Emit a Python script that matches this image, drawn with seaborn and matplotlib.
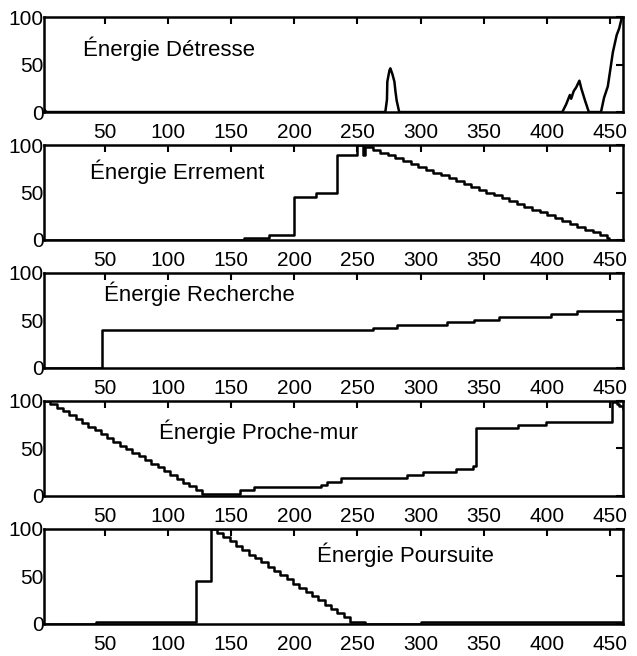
import seaborn as sns
import matplotlib.pyplot as plt
import numpy as np

# values (x = time step, y = energy %)
detresse_x = [2, 4, 272, 273.3, 273.6, 275.3, 276, 277.6, 279.2, 280, 281, 283,
              412, 415, 418, 419, 421, 423, 425.5, 427, 430, 433,
              442.6, 445, 448, 452, 455, 457, 459, 460]
detresse_y = [3, 0, 0, 13, 32, 44, 46, 40, 32, 22, 12, 0,
              0, 8, 18, 14, 22, 26, 33, 25, 12, 0,
              0, 15, 27, 63, 81, 88, 99, 100]

errement_x = [2, 160, 180, 200, 217, 234, 250, 254, 256, 262, 268, 274, 280, 286,
              292, 298, 304, 310, 316, 322, 328, 334, 340, 346, 352, 358, 364,
              370, 376, 382, 388, 394, 400, 406, 412, 418, 424, 430, 436, 442,
              447, 449, 460]
errement_y = [0, 2, 5, 45, 50, 89, 100, 90, 98, 95, 92, 89, 86, 83,
              80, 77, 74, 71, 68, 65, 62, 59, 56, 53, 50, 47, 44,
              41, 38, 35, 32, 29, 26, 23, 20, 17, 14, 11, 8, 5,
              2, 0, 0]

recherche_x = [2, 48, 262, 281, 321, 342, 362, 403, 424, 460]
recherche_y = [0, 40, 42, 45, 48, 51, 54, 57, 60, 60]

proche_x = [2, 7, 12, 17, 22, 27, 32, 37, 42, 47, 52, 57, 62, 67, 72, 77, 82,
            87, 92, 97, 102, 107, 112, 117, 122, 127, 157, 168, 221, 226, 237,
            289, 302, 328, 341, 344, 377, 399, 451, 453, 455, 457, 460]
proche_y = [100, 97, 93, 89, 85, 81, 77, 73, 69, 65, 61, 57, 53, 49, 45, 42, 38,
            34, 30, 26, 22, 18, 14, 10, 6, 2, 6, 9, 12, 15, 19,
            22, 25, 28, 31, 72, 75, 78, 100, 99, 97, 95, 92]

poursuite_x = [2, 43, 122, 134, 139, 144, 149, 154, 159, 164, 169, 174, 179,
               184, 189, 194, 199, 204, 209, 214, 219, 224, 229, 234, 239, 244,
               248, 256, 300, 460]
poursuite_y = [0, 2, 45, 100, 96, 91, 87, 82, 78, 73, 69, 65, 60,
               56, 51, 47, 42, 38, 34, 29, 25, 20, 16, 11, 7, 2,
               2, 0, 2, 2]

titles = ["Énergie Détresse", "Énergie Errement", "Énergie Recherche",
          "Énergie Proche-mur", "Énergie Poursuite"]
title_pos = [(0.067, 0.59), (0.079, 0.645), (0.103, 0.70), (0.198, 0.60), (0.472, 0.65)]
xticks = [50, 100, 150, 200, 250, 300, 350, 400, 450]
yticks = [0, 50, 100]

series = [(detresse_x, detresse_y, None),
          (errement_x, errement_y, "steps-post"),
          (recherche_x, recherche_y, "steps-post"),
          (proche_x, proche_y, "steps-post"),
          (poursuite_x, poursuite_y, "steps-post")]

sns.set_style("white")
plt.rcParams["font.family"] = ["Liberation Sans", "DejaVu Sans"]
plt.rcParams["text.color"] = "black"
plt.rcParams["xtick.color"] = "black"
plt.rcParams["ytick.color"] = "black"
plt.rcParams["axes.labelcolor"] = "black"

fig, axes = plt.subplots(5, 1, figsize=(6.37, 6.56), dpi=100)
fig.subplots_adjust(left=0.069, right=0.978, top=0.974, bottom=0.049, hspace=0.347)

for ax, (x, y, ds), title, (tx, ty) in zip(axes, series, titles, title_pos):
    kw = {}
    if ds:
        kw["drawstyle"] = ds
    sns.lineplot(x=x, y=y, ax=ax, color="black", linewidth=1.8,
                 estimator=None, sort=False, **kw)
    ax.set_xlim(2, 460)
    ax.set_ylim(0, 100)
    ax.set_xticks(xticks)
    ax.set_yticks(yticks)
    ax.set_xlabel("")
    ax.set_ylabel("")
    ax.tick_params(axis="both", direction="in", top=True, right=True,
                   length=5, width=1.5, labelsize=15, color="black",
                   labelcolor="black")
    ax.tick_params(axis="x", pad=8)
    ax.tick_params(axis="y", pad=0)
    for s in ax.spines.values():
        s.set_linewidth(1.8)
        s.set_color("black")
    ax.text(tx, ty, title, transform=ax.transAxes, fontsize=16,
            color="black", ha="left", va="baseline")

fig.savefig("out.png", dpi=100, facecolor="white")
